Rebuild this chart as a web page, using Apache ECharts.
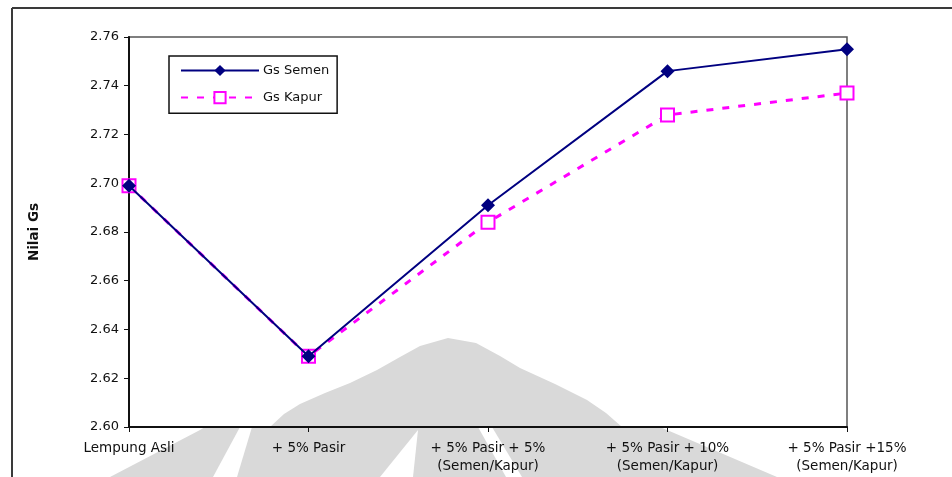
<!DOCTYPE html>
<html>
<head>
<meta charset="utf-8">
<script src="https://cdn.jsdelivr.net/npm/echarts@6/dist/echarts.min.js"></script>
<style>
  html, body { margin: 0; padding: 0; background: #ffffff; }
  #chart { width: 952px; height: 477px; }
</style>
</head>
<body>
<div id="chart"></div>
<script>
// Specific gravity (Gs) per mixture
const categories = [
  'Lempung Asli',
  '+ 5% Pasir',
  '+ 5% Pasir + 5%\n(Semen/Kapur)',
  '+ 5% Pasir + 10%\n(Semen/Kapur)',
  '+ 5% Pasir +15%\n(Semen/Kapur)'
];
const gsSemen = [2.699, 2.629, 2.691, 2.746, 2.755];
const gsKapur = [2.699, 2.629, 2.684, 2.728, 2.737];
const yTicks = { min: 2.60, max: 2.76, interval: 0.02 };

const FONT = 'DejaVu Sans';
const GRAY = '#d9d9d9';

// faint background emblem and frame lines
const emblem = [
  { type: 'polygon', z: -10, silent: true,
    shape: { points: [[270,427],[284,414],[300,404],[325,393],[350,383],[377,370],[400,357],[420,346],[448,338],[476,343],[500,356],[520,368],[555,384],[587,400],[606,413],[622,427]] },
    style: { fill: GRAY } },
  { type: 'polygon', z: -10, silent: true,
    shape: { points: [[110,477],[200,430],[205,427],[660,427],[777,477]] },
    style: { fill: GRAY } },
  { type: 'polygon', z: -9, silent: true,
    shape: { points: [[213,477],[237,477],[252,427],[240,427]] },
    style: { fill: '#ffffff' } },
  { type: 'polygon', z: -9, silent: true,
    shape: { points: [[380,477],[413,477],[418,430]] },
    style: { fill: '#ffffff' } },
  { type: 'polygon', z: -9, silent: true,
    shape: { points: [[478,427],[492,427],[522,477],[506,477]] },
    style: { fill: '#ffffff' } },
  { type: 'line', z: 10, silent: true,
    shape: { x1: 12, y1: 8, x2: 952, y2: 8 },
    style: { stroke: '#3a3a3a', lineWidth: 2 } },
  { type: 'line', z: 10, silent: true,
    shape: { x1: 12, y1: 8, x2: 12, y2: 477 },
    style: { stroke: '#3a3a3a', lineWidth: 2 } }
];

const chart = echarts.init(document.getElementById('chart'), null, { renderer: 'canvas' });

chart.setOption({
  animation: false,
  backgroundColor: '#ffffff',
  textStyle: { fontFamily: FONT },
  graphic: emblem,
  grid: {
    left: 129, right: 105, top: 37, bottom: 50,
    show: true, borderColor: '#555555', borderWidth: 1.5
  },
  legend: {
    orient: 'vertical',
    left: 169, top: 56,
    padding: [8, 8, 9, 11],
    itemGap: 14,
    itemWidth: 78,
    itemHeight: 14,
    borderColor: '#111111',
    borderWidth: 1.5,
    backgroundColor: '#ffffff',
    textStyle: { fontFamily: FONT, fontSize: 13, color: '#111111', padding: [0, 0, 0, -1] },
    data: ['Gs Semen', 'Gs Kapur']
  },
  xAxis: {
    type: 'category',
    data: categories,
    boundaryGap: false,
    axisLine: { lineStyle: { color: '#111111', width: 2 } },
    axisTick: { show: true, alignWithLabel: true, length: 5, lineStyle: { color: '#111111' } },
    axisLabel: {
      interval: 0, margin: 12, lineHeight: 18,
      fontFamily: FONT, fontSize: 13.5, color: '#111111'
    },
    splitLine: { show: false }
  },
  yAxis: {
    type: 'value',
    min: yTicks.min, max: yTicks.max, interval: yTicks.interval,
    name: 'Nilai Gs',
    nameLocation: 'middle',
    nameRotate: 90,
    nameGap: 88,
    nameTextStyle: { fontFamily: FONT, fontSize: 13.5, fontWeight: 'bold', color: '#111111' },
    axisLine: { show: true, lineStyle: { color: '#111111', width: 2 } },
    axisTick: { show: true, length: 5, lineStyle: { color: '#111111' } },
    axisLabel: {
      margin: 10, fontFamily: FONT, fontSize: 13, color: '#111111',
      formatter: v => v.toFixed(2)
    },
    splitLine: { show: false }
  },
  series: [
    {
      name: 'Gs Kapur',
      type: 'line',
      data: gsKapur,
      z: 3,
      symbol: 'rect',
      symbolSize: 13,
      showAllSymbol: true,
      lineStyle: { color: '#ff00ff', width: 3, type: [7, 9] },
      itemStyle: { color: '#ffffff', borderColor: '#ff00ff', borderWidth: 2 }
    },
    {
      name: 'Gs Semen',
      type: 'line',
      data: gsSemen,
      z: 4,
      symbol: 'diamond',
      symbolSize: 14,
      showAllSymbol: true,
      lineStyle: { color: '#000080', width: 2 },
      itemStyle: { color: '#000080', borderColor: '#000080', borderWidth: 0 }
    }
  ]
});
</script>
</body>
</html>
